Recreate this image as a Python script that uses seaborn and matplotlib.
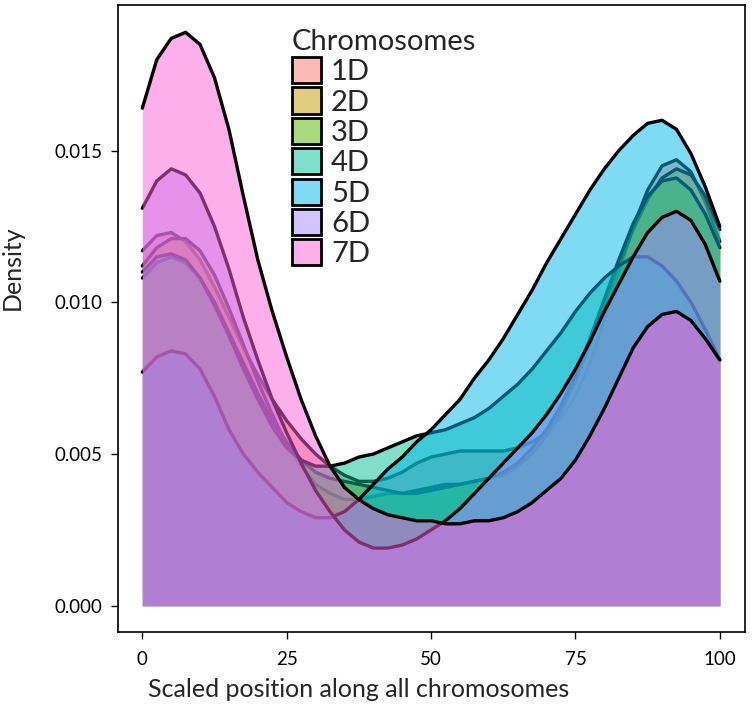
import matplotlib
matplotlib.use("Agg")
import matplotlib.pyplot as plt
from matplotlib.patches import Patch
from matplotlib.colors import to_rgba
import seaborn as sns
import pandas as pd

# positions along the scaled chromosome (0-100) at which densities were read
pos = [0, 2.5, 5, 7.5, 10, 12.5, 15, 17.5, 20, 22.5, 25, 27.5, 30, 32.5, 35, 37.5, 40,
       42.5, 45, 47.5, 50, 52.5, 55, 57.5, 60, 62.5, 65, 67.5, 70, 72.5, 75, 77.5, 80,
       82.5, 85, 87.5, 90, 92.5, 95, 97.5, 100]

chroms = ["1D", "2D", "3D", "4D", "5D", "6D", "7D"]

d1 = [0.0117, 0.0122, 0.0123, 0.0120, 0.0114, 0.0105, 0.0095, 0.0085, 0.0076, 0.0068,
      0.0061, 0.0055, 0.0050, 0.0046, 0.0043, 0.0041, 0.0041, 0.0042, 0.0044, 0.0047,
      0.0049, 0.0050, 0.0051, 0.0051, 0.0051, 0.0051, 0.0052, 0.0054, 0.0057, 0.0062,
      0.0069, 0.0080, 0.0094, 0.0110, 0.0125, 0.0137, 0.0145, 0.0147, 0.0143, 0.0133,
      0.0120]
d2 = [0.0112, 0.0118, 0.0121, 0.0121, 0.0117, 0.0109, 0.0098, 0.0086, 0.0074, 0.0063,
      0.0053, 0.0046, 0.0040, 0.0037, 0.0035, 0.0035, 0.0036, 0.0037, 0.0037, 0.0038,
      0.0039, 0.0040, 0.0040, 0.0041, 0.0042, 0.0043, 0.0046, 0.0050, 0.0056, 0.0064,
      0.0074, 0.0086, 0.0099, 0.0112, 0.0124, 0.0134, 0.0141, 0.0144, 0.0142, 0.0135,
      0.0124]
d3 = [0.0108, 0.0113, 0.0115, 0.0113, 0.0108, 0.0100, 0.0090, 0.0080, 0.0070, 0.0061,
      0.0054, 0.0048, 0.0044, 0.0042, 0.0041, 0.0040, 0.0039, 0.0038, 0.0037, 0.0037,
      0.0038, 0.0039, 0.0040, 0.0041, 0.0042, 0.0044, 0.0047, 0.0052, 0.0058, 0.0066,
      0.0076, 0.0088, 0.0101, 0.0114, 0.0126, 0.0135, 0.0140, 0.0141, 0.0137, 0.0129,
      0.0118]
d4 = [0.0110, 0.0115, 0.0116, 0.0114, 0.0108, 0.0099, 0.0089, 0.0078, 0.0068, 0.0059,
      0.0052, 0.0048, 0.0046, 0.0046, 0.0047, 0.0049, 0.0050, 0.0052, 0.0054, 0.0056,
      0.0057, 0.0058, 0.0060, 0.0062, 0.0065, 0.0069, 0.0073, 0.0078, 0.0084, 0.0090,
      0.0097, 0.0103, 0.0108, 0.0112, 0.0115, 0.0115, 0.0112, 0.0107, 0.0100, 0.0091,
      0.0081]
d5 = [0.0077, 0.0082, 0.0084, 0.0083, 0.0078, 0.0069, 0.0058, 0.0050, 0.0044, 0.0039,
      0.0034, 0.0031, 0.0029, 0.0029, 0.0031, 0.0035, 0.0040, 0.0045, 0.0049, 0.0054,
      0.0058, 0.0063, 0.0068, 0.0075, 0.0081, 0.0088, 0.0096, 0.0104, 0.0113, 0.0121,
      0.0129, 0.0137, 0.0144, 0.0150, 0.0155, 0.0159, 0.0160, 0.0157, 0.0149, 0.0138,
      0.0125]
d6 = [0.0131, 0.0140, 0.0144, 0.0142, 0.0136, 0.0125, 0.0111, 0.0095, 0.0081, 0.0068,
      0.0057, 0.0047, 0.0038, 0.0031, 0.0025, 0.0021, 0.0019, 0.0019, 0.0020, 0.0022,
      0.0025, 0.0028, 0.0032, 0.0037, 0.0042, 0.0047, 0.0052, 0.0057, 0.0063, 0.0070,
      0.0078, 0.0087, 0.0097, 0.0106, 0.0115, 0.0123, 0.0128, 0.0130, 0.0127, 0.0119,
      0.0107]
d7 = [0.0164, 0.0180, 0.0187, 0.0189, 0.0185, 0.0174, 0.0157, 0.0135, 0.0114, 0.0097,
      0.0082, 0.0068, 0.0056, 0.0046, 0.0039, 0.0035, 0.0032, 0.0030, 0.0029, 0.0028,
      0.0028, 0.0027, 0.0027, 0.0028, 0.0028, 0.0029, 0.0031, 0.0034, 0.0038, 0.0042,
      0.0048, 0.0056, 0.0065, 0.0075, 0.0085, 0.0092, 0.0096, 0.0097, 0.0094, 0.0088,
      0.0081]

colors = ["#F8766D", "#C49A00", "#53B400", "#00C094", "#00B6EB", "#A58AFF", "#FB61D7"]

df = pd.concat([pd.DataFrame({"pos": pos, "density": d, "chrom": c})
                for c, d in zip(chroms, [d1, d2, d3, d4, d5, d6, d7])])

sns.set_style("white")
plt.rcParams["font.family"] = ["Lato", "DejaVu Sans"]

fig = plt.figure(figsize=(7.52, 7.16), dpi=100)
ax = fig.add_axes([0.157, 0.118, 0.834, 0.875])

# each group: fill then its outline, stacked in order so later fills tint earlier lines
for i, (c, col) in enumerate(zip(chroms, colors)):
    sub = df[df["chrom"] == c]
    ax.fill_between(sub["pos"], 0, sub["density"], color=col, alpha=0.5,
                    linewidth=0, zorder=2 * i + 1)
    sns.lineplot(data=sub, x="pos", y="density", color="black", linewidth=2.4,
                 ax=ax, legend=False, zorder=2 * i + 2, sort=False,
                 solid_joinstyle="round", solid_capstyle="round")

ax.set_xlim(-4.2, 104.4)
ax.set_ylim(-0.00085, 0.0198)
ax.set_xticks([0, 25, 50, 75, 100])
ax.set_yticks([0.0, 0.005, 0.010, 0.015])
ax.set_yticklabels(["0.000", "0.005", "0.010", "0.015"])
ax.tick_params(axis="both", labelsize=13.5, colors="black", length=5, width=1,
               direction="out", left=True, bottom=True, pad=6)
ax.tick_params(axis="x", pad=9)
for s in ax.spines.values():
    s.set_color("black")
    s.set_linewidth(1.2)

ax.set_xlabel("Scaled position along all chromosomes", fontsize=18)
ax.set_ylabel("Density", fontsize=18)
ax.xaxis.set_label_coords(0.383, -0.075)
ax.yaxis.set_label_coords(-0.15, 0.58)

handles = [Patch(facecolor=to_rgba(col, 0.5), edgecolor="black", linewidth=2)
           for col in colors]
leg = ax.legend(handles, chroms, title="Chromosomes", loc="upper left",
                bbox_to_anchor=(0.249, 0.99), frameon=False, fontsize=21,
                title_fontsize=21, handlelength=1.0, handleheight=1.0,
                labelspacing=0.08, handletextpad=0.35, alignment="left",
                borderaxespad=0.2)

fig.savefig("out.png", dpi=100)
